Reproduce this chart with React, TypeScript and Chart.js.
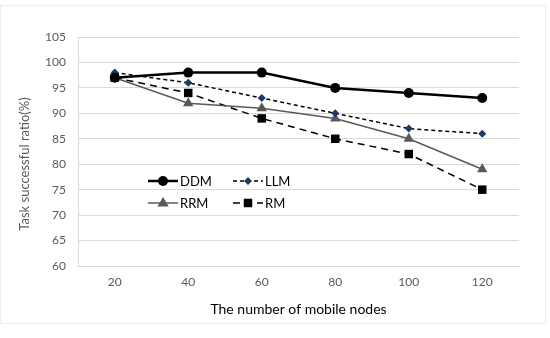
import React, { useEffect, useRef } from "react";
import { Chart, registerables } from "chart.js";

Chart.register(...registerables);

const categories = ["20", "40", "60", "80", "100", "120"];
const ddm = [97, 98, 98, 95, 94, 93];
const llm = [98, 96, 93, 90, 87, 86];
const rrm = [97, 92, 91, 89, 85, 79];
const rm = [97, 94, 89, 85, 82, 75];
const yTitle = "Task successful ratio(%)";
const xTitle = "The number of mobile nodes";

const FONT = "Lato";

const extrasPlugin = {
  id: "extras",
  afterDraw(chart: any) {
    const ctx = chart.ctx as CanvasRenderingContext2D;
    ctx.save();
    // faint outer border
    ctx.strokeStyle = "#ececec";
    ctx.lineWidth = 1;
    ctx.strokeRect(0.5, 5.5, 545, 318);
    // y title
    ctx.fillStyle = "#595959";
    ctx.font = `13px ${FONT}`;
    ctx.textAlign = "center";
    ctx.textBaseline = "middle";
    ctx.translate(25, 164);
    ctx.rotate(-Math.PI / 2);
    ctx.fillText(yTitle, 0, 0);
    ctx.restore();

    // legend inside plot
    const pos = [
      [148, 181],
      [233, 181],
      [148, 203],
      [233, 203],
    ];
    chart.data.datasets.forEach((d: any, k: number) => {
      const [x, y] = pos[k];
      ctx.save();
      ctx.strokeStyle = d.borderColor;
      ctx.lineWidth = d.borderWidth;
      ctx.setLineDash(d.borderDash || []);
      ctx.beginPath();
      ctx.moveTo(x, y);
      ctx.lineTo(x + 30, y);
      ctx.stroke();
      ctx.setLineDash([]);
      ctx.fillStyle = d.pointBackgroundColor;
      const r = d.pointRadius;
      const cx = x + 15;
      ctx.beginPath();
      if (d.pointStyle === "circle") {
        ctx.arc(cx, y, r, 0, Math.PI * 2);
      } else if (d.pointStyle === "rectRot") {
        ctx.moveTo(cx, y - r);
        ctx.lineTo(cx + r, y);
        ctx.lineTo(cx, y + r);
        ctx.lineTo(cx - r, y);
        ctx.closePath();
      } else if (d.pointStyle === "triangle") {
        ctx.moveTo(cx, y - r);
        ctx.lineTo(cx + r * 0.95, y + r * 0.6);
        ctx.lineTo(cx - r * 0.95, y + r * 0.6);
        ctx.closePath();
      } else {
        const s = r * Math.SQRT1_2;
        ctx.rect(cx - s, y - s, 2 * s, 2 * s);
      }
      ctx.fill();
      ctx.fillStyle = "#000000";
      ctx.font = `13px ${FONT}`;
      ctx.textAlign = "left";
      ctx.textBaseline = "middle";
      ctx.fillText(d.label, x + 32, y + 0.5);
      ctx.restore();
    });
  },
};

export default function App() {
  const ref = useRef<HTMLCanvasElement>(null);
  useEffect(() => {
    document.body.style.margin = "0";
    const chart = new Chart(ref.current as HTMLCanvasElement, {
      type: "line",
      data: {
        labels: categories,
        datasets: [
          {
            label: "DDM",
            data: ddm,
            borderColor: "#000000",
            borderWidth: 2.5,
            pointStyle: "circle",
            pointRadius: 5,
            pointBackgroundColor: "#000000",
            pointBorderColor: "#000000",
            pointBorderWidth: 0,
          },
          {
            label: "LLM",
            data: llm,
            borderColor: "#000000",
            borderWidth: 1.5,
            borderDash: [4, 3],
            pointStyle: "rectRot",
            pointRadius: 4,
            pointBackgroundColor: "#1f3864",
            pointBorderColor: "#1f3864",
            pointBorderWidth: 0,
          },
          {
            label: "RRM",
            data: rrm,
            borderColor: "#595959",
            borderWidth: 1.5,
            pointStyle: "triangle",
            pointRadius: 6,
            pointBackgroundColor: "#595959",
            pointBorderColor: "#595959",
            pointBorderWidth: 0,
          },
          {
            label: "RM",
            data: rm,
            borderColor: "#000000",
            borderWidth: 1.5,
            borderDash: [7, 5],
            pointStyle: "rect",
            pointRadius: 6,
            pointBackgroundColor: "#000000",
            pointBorderColor: "#000000",
            pointBorderWidth: 0,
          },
        ],
      } as any,
      options: {
        animation: false,
        responsive: false,
        layout: { padding: { left: 0, top: 37, right: 31, bottom: 0 } },
        plugins: { legend: { display: false }, tooltip: { enabled: false } },
        scales: {
          x: {
            offset: true,
            grid: { display: false, drawTicks: false },
            border: { display: true, color: "#d9d9d9" },
            ticks: { color: "#595959", font: { family: FONT, size: 12 }, padding: 9, maxRotation: 0 },
            title: {
              display: true,
              text: xTitle,
              color: "#000000",
              font: { family: FONT, size: 14 },
              padding: { top: 0, bottom: 20 },
            },
            afterFit: (s: any) => {
              s.height = 72;
            },
          },
          y: {
            min: 60,
            max: 105,
            grid: { color: "#d9d9d9", drawTicks: false },
            border: { display: true, color: "#d9d9d9" },
            ticks: { stepSize: 5, color: "#595959", font: { family: FONT, size: 12 }, padding: 12 },
            afterFit: (s: any) => {
              s.width = 78;
            },
          },
        },
      },
      plugins: [extrasPlugin],
    });
    return () => chart.destroy();
  }, []);
  return <canvas ref={ref} width={550} height={338} style={{ display: "block" }} />;
}
